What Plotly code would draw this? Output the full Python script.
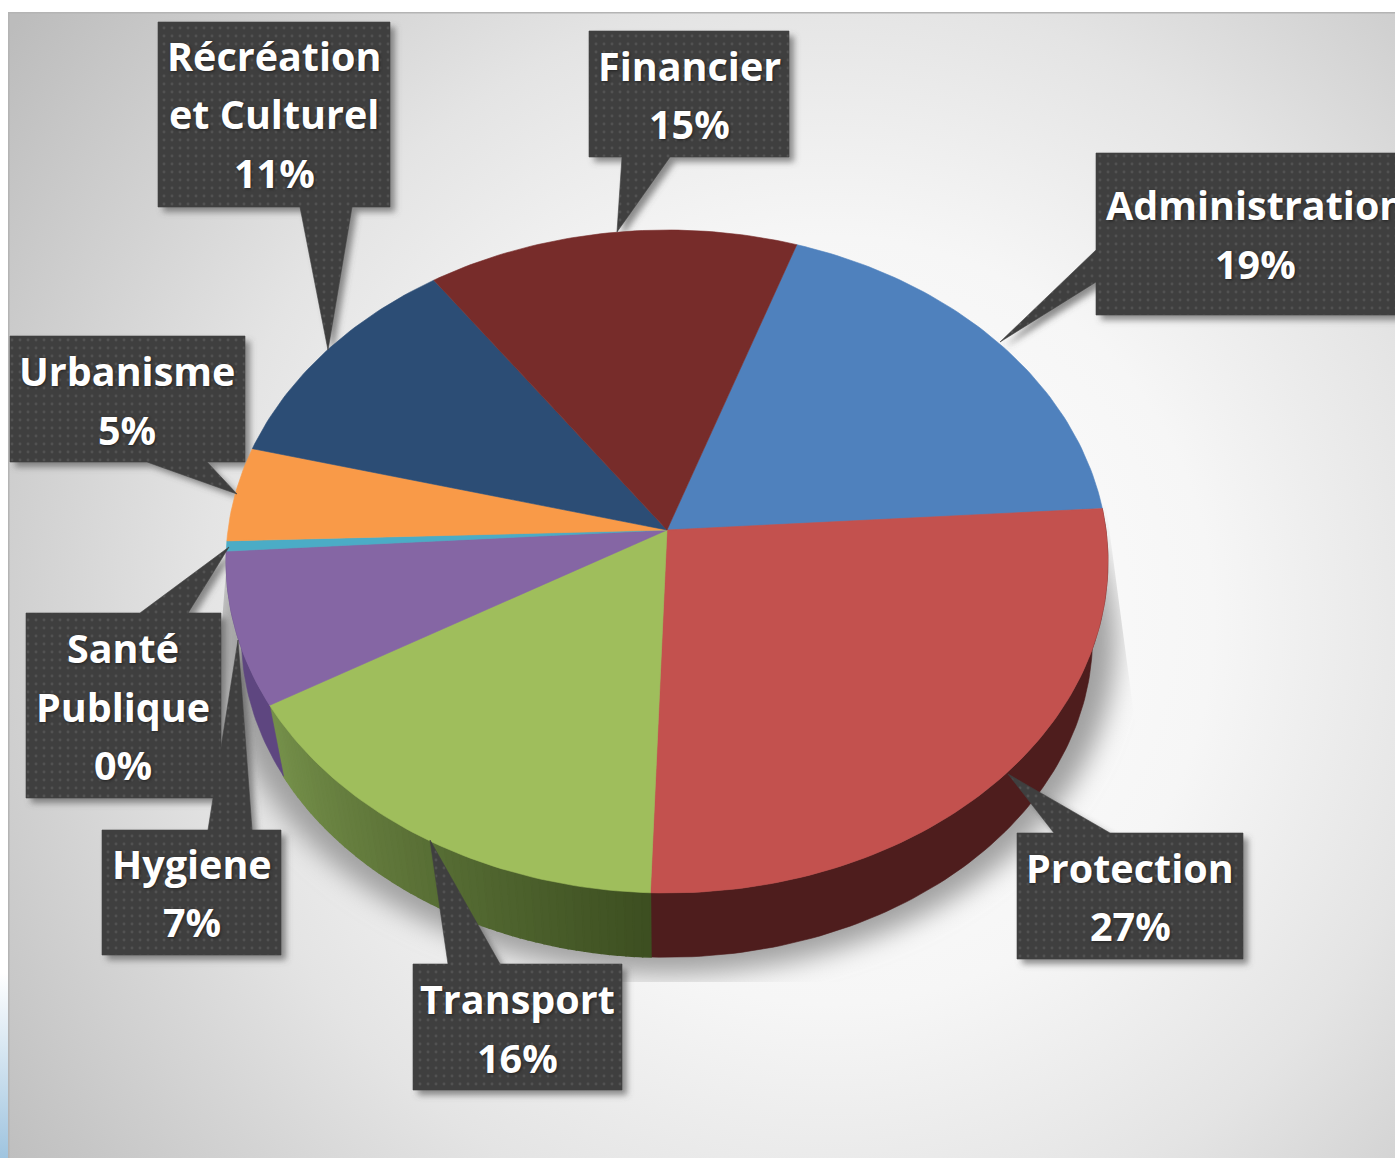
import math
import base64
import plotly.graph_objects as go

# ---- data ----
categories = ["Administration", "Protection", "Transport", "Hygiene",
              "Santé Publique", "Urbanisme", "Récréation et Culturel", "Financier"]
values = [18.7, 26.55, 15.95, 7.45, 0.49, 4.6, 11.2, 14.9]
label_lines = [["Administration"], ["Protection"], ["Transport"], ["Hygiene"],
               ["Santé", "Publique"], ["Urbanisme"], ["Récréation", "et Culturel"], ["Financier"]]

# ---- styling ----
top_colors = ["#4F81BD", "#C3514E", "#9FBE5C", "#8566A4", "#4BACC6", "#F99A48", "#2C4D75", "#772C2A"]
W, H = 1395, 1158
START = 18.8
CX, CY = 667, 530
A, B, K = 439, 328.5, 0.095
ELL_CY = 561.6
LOW_CY, LOW_S = 637.5, 0.965

def top(t):
    r = math.radians(t)
    d = 1 + K * math.cos(r)
    return CX + A * math.sin(r) / d, CY - B * math.cos(r) / d

def low(t):
    x, y = top(t)
    return CX + LOW_S * (x - CX), LOW_CY + LOW_S * (y - ELL_CY)

def frange(a, b, step=1.0):
    n = max(2, int(abs(b - a) / step) + 1)
    return [a + (b - a) * i / (n - 1) for i in range(n)]

def lerp(c1, c2, f):
    a = [int(c1[i:i + 2], 16) for i in (1, 3, 5)]
    b = [int(c2[i:i + 2], 16) for i in (1, 3, 5)]
    return "#" + "".join(f"{round(p + (q - p) * f):02x}" for p, q in zip(a, b))

total = sum(values)
edges = [START]
for v in values:
    edges.append(edges[-1] + v / total * 360)

# callouts: box (x0, y0, x1, y1), pointer base on box, pointer tip, text centre x, text line ys
callouts = {
    "Financier": dict(box=(589, 31, 789, 157), side="b", base=(622, 670), tip=(617, 232), cx=689, ys=[67, 125]),
    "Administration": dict(box=(1096, 153, 1400, 315), side="l", base=(250, 282), tip=(1000, 342), cx=1255, ys=[206, 265]),
    "Protection": dict(box=(1017, 833, 1243, 959), side="t", base=(1054, 1110), tip=(1008, 774), cx=1130, ys=[869, 927]),
    "Transport": dict(box=(413, 964, 622, 1090), side="t", base=(448, 500), tip=(430, 840), cx=517, ys=[1000, 1059]),
    "Hygiene": dict(box=(102, 830, 281, 955), side="t", base=(208, 252), tip=(238, 640), cx=192, ys=[865, 923]),
    "Santé Publique": dict(box=(26, 613, 221, 798), side="t", base=(140, 188), tip=(229, 547), cx=123, ys=[649, 708, 766]),
    "Urbanisme": dict(box=(10, 336, 245, 462), side="b", base=(147, 207), tip=(237, 494), cx=127, ys=[372, 431]),
    "Récréation et Culturel": dict(box=(158, 22, 390, 207), side="b", base=(300, 352), tip=(328, 350), cx=274, ys=[57, 115, 174]),
}

def callout_poly(c):
    x0, y0, x1, y1 = c["box"]
    a, b = c["base"]
    tx, ty = c["tip"]
    if c["side"] == "b":
        return [(x0, y0), (x1, y0), (x1, y1), (b, y1), (tx, ty), (a, y1), (x0, y1)]
    if c["side"] == "t":
        return [(x0, y0), (a, y0), (tx, ty), (b, y0), (x1, y0), (x1, y1), (x0, y1)]
    return [(x0, y0), (x1, y0), (x1, y1), (x0, y1), (x0, b), (tx, ty), (x0, a)]

# ---- background picture: gradient, frame, soft shadows ----
def shadow_pt(t):
    x, y = low(t)
    return CX + 1.055 * (x - CX), LOW_CY + 1.04 * (y - LOW_CY) + 4

low_pts = " ".join(f"{shadow_pt(t)[0]:.1f},{shadow_pt(t)[1]:.1f}" for t in frange(0, 360, 3))
box_shadows = "".join(
    '<polygon points="' + " ".join(f"{x + 5},{y + 5}" for x, y in callout_poly(c)) + '" fill="#555" opacity="0.65"/>'
    for c in callouts.values())
svg = f'''<svg xmlns="http://www.w3.org/2000/svg" width="{W}" height="{H}" viewBox="0 0 {W} {H}">
<defs>
<radialGradient id="bg" gradientUnits="userSpaceOnUse" cx="830" cy="620" r="1010">
<stop offset="0" stop-color="#ffffff"/><stop offset="0.38" stop-color="#f6f6f6"/>
<stop offset="0.62" stop-color="#e4e4e4"/><stop offset="1" stop-color="#bcbcbc"/></radialGradient>
<linearGradient id="strip" x1="0" y1="0" x2="0" y2="1">
<stop offset="0.84" stop-color="#ffffff"/><stop offset="1" stop-color="#9fc4df"/></linearGradient>
<filter id="b1" x="-20%" y="-20%" width="140%" height="140%"><feGaussianBlur stdDeviation="13"/></filter>
<filter id="b2" x="-10%" y="-10%" width="120%" height="120%"><feGaussianBlur stdDeviation="3"/></filter>
<clipPath id="sc"><polygon points="1106,505 1140,760 1140,982 120,982 205,840 228,545"/></clipPath>
</defs>
<rect width="{W}" height="{H}" fill="#ffffff"/>
<rect x="0" y="0" width="8" height="{H}" fill="url(#strip)"/>
<rect x="8" y="12" width="{W - 8}" height="{H - 12}" fill="url(#bg)"/>
<rect x="8" y="12" width="{W - 8}" height="1.5" fill="#b4b4b4"/>
<rect x="8" y="12" width="1.5" height="{H - 12}" fill="#b4b4b4"/>
<g clip-path="url(#sc)"><polygon points="{low_pts}" fill="#a0a0a0" filter="url(#b1)"/></g>
<g filter="url(#b2)">{box_shadows}</g>
</svg>'''
bg_uri = "data:image/svg+xml;base64," + base64.b64encode(svg.encode()).decode()

fig = go.Figure()

def add_poly(pts, color, name, pattern=None, lw=0.6):
    fig.add_trace(go.Scatter(
        x=[p[0] for p in pts] + [pts[0][0]], y=[p[1] for p in pts] + [pts[0][1]],
        mode="lines", fill="toself", fillcolor=color, fillpattern=pattern,
        line=dict(color=color, width=lw), name=name, hoverinfo="name", showlegend=False))

# side walls, from the visible slices
wall_flat = {"Protection": "#4E1D1D", "Hygiene": "#5E4680"}
for i, name in enumerate(categories):
    a, b = edges[i], edges[i + 1]
    if name in wall_flat:
        ts = frange(a, b)
        add_poly([top(t) for t in ts] + [low(t) for t in reversed(ts)], wall_flat[name], name + " (side)")
    elif name == "Transport":
        n = 56
        for s in range(n):
            t0, t1 = b - (b - a) * s / n, b - (b - a) * (s + 1) / n
            ts = [t0, t1]
            col = lerp("#75904A", "#3D4F21", s / (n - 1))
            add_poly([top(t) for t in ts] + [low(t) for t in reversed(ts)], col, name + " (side)", lw=1.5)

# top face
for i, name in enumerate(categories):
    add_poly([(CX, CY)] + [top(t) for t in frange(edges[i], edges[i + 1])], top_colors[i], name)

# callouts and their text
pattern = dict(shape=".", size=8, solidity=0.1, fgcolor="#525252", bgcolor="#3F3F3F", fillmode="replace")
annotations = []
font = dict(family="Open Sans", size=39.5, color="#FFFFFF", weight="bold", shadow="1px 1px 3px #222222")
for i, name in enumerate(categories):
    c = callouts[name]
    add_poly(callout_poly(c), "#3F3F3F", name + " label", pattern)
    lines = label_lines[i] + [f"{round(values[i])}%"]
    for line, y in zip(lines, c["ys"]):
        annotations.append(dict(x=c["cx"], y=y - 1.5, xref="x", yref="y", text=line, showarrow=False,
                                xanchor="center", yanchor="middle", font=font))

fig.update_layout(
    width=W, height=H, margin=dict(l=0, r=0, t=0, b=0, pad=0), showlegend=False,
    paper_bgcolor="white", plot_bgcolor="rgba(0,0,0,0)",
    xaxis=dict(range=[0, W], visible=False, fixedrange=True),
    yaxis=dict(range=[H, 0], visible=False, fixedrange=True),
    images=[dict(source=bg_uri, xref="paper", yref="paper", x=0, y=1, sizex=1, sizey=1,
                 sizing="stretch", layer="below", xanchor="left", yanchor="top")],
    annotations=annotations,
)
fig.write_html("out.html", config=dict(displayModeBar=False),
               post_script="document.body.style.margin='0';document.body.style.overflow='hidden';")
